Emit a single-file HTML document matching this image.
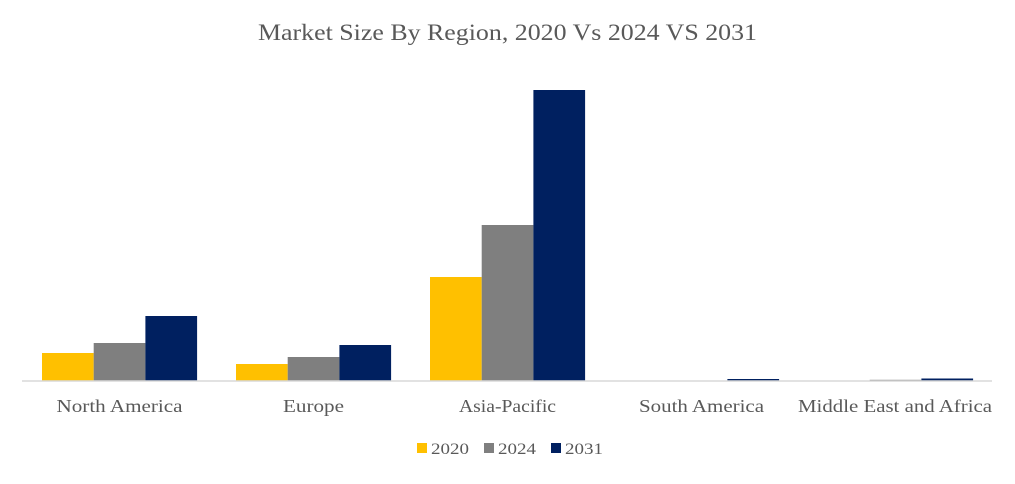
<!DOCTYPE html>
<html><head><meta charset="utf-8"><style>
body{margin:0;background:#fff;}
svg text{font-family:"Liberation Serif",serif;fill:#595959;}
</style></head><body>
<svg id="chart" width="1015" height="479">
<text x="258" y="40" font-size="23" textLength="499" lengthAdjust="spacingAndGlyphs">Market Size By Region, 2020 Vs 2024 VS 2031</text>
<g id="bars"></g>
<line x1="22" y1="381" x2="992" y2="381" stroke="#d9d9d9" stroke-width="1.5"/>
<g id="labels"></g>
<g id="legend"></g>
</svg>
<script>
const categories=["North America","Europe","Asia-Pacific","South America","Middle East and Africa"];
const series=["2020","2024","2031"];
const colors=["#ffc000","#7f7f7f","#002060"];
const v2020=[28,17,104,0.3,0.3];
const v2024=[38,24,156,0.5,1.2];
const v2031=[65,36,291,2,2.5];
const values=[v2020,v2024,v2031];
const labelWidths=[126,61,97,125,194];
const ns="http://www.w3.org/2000/svg";
const x0=22,band=194,pad=20,bw=51.7,base=381,scale=1;
const xPos=(i,s)=>x0+i*band+pad+s*bw;
const yPos=v=>base-v*scale;
const bars=document.getElementById('bars'),labels=document.getElementById('labels'),legend=document.getElementById('legend');
values.forEach((arr,s)=>arr.forEach((v,i)=>{
 const r=document.createElementNS(ns,'rect');
 r.setAttribute('x',xPos(i,s));r.setAttribute('y',yPos(v));
 r.setAttribute('width',bw);r.setAttribute('height',base-yPos(v));
 r.setAttribute('fill',colors[s]);
 
 
 bars.appendChild(r);
}));
categories.forEach((c,i)=>{
 const t=document.createElementNS(ns,'text');
 const cx=x0+i*band+band/2+(i==4?0:0.5);
 const w=labelWidths[i];
 t.setAttribute('x',i==4?992-w:cx-w/2);t.setAttribute('y',412);
 t.setAttribute('font-size','18');
 t.setAttribute('textLength',w);t.setAttribute('lengthAdjust','spacingAndGlyphs');
 t.textContent=c;
 
 
 labels.appendChild(t);
});
const lx=[417,484,551];
series.forEach((s,k)=>{
 const r=document.createElementNS(ns,'rect');
 r.setAttribute('x',lx[k]);r.setAttribute('y',443);r.setAttribute('width',10);r.setAttribute('height',10);
 r.setAttribute('fill',colors[k]);
 
 
 legend.appendChild(r);
 const t=document.createElementNS(ns,'text');
 t.setAttribute('x',lx[k]+14);t.setAttribute('y',454);t.setAttribute('font-size','16');
 t.setAttribute('textLength',38);t.setAttribute('lengthAdjust','spacingAndGlyphs');
 t.textContent=s;
 
 
 legend.appendChild(t);
});
</script>
</body></html>
